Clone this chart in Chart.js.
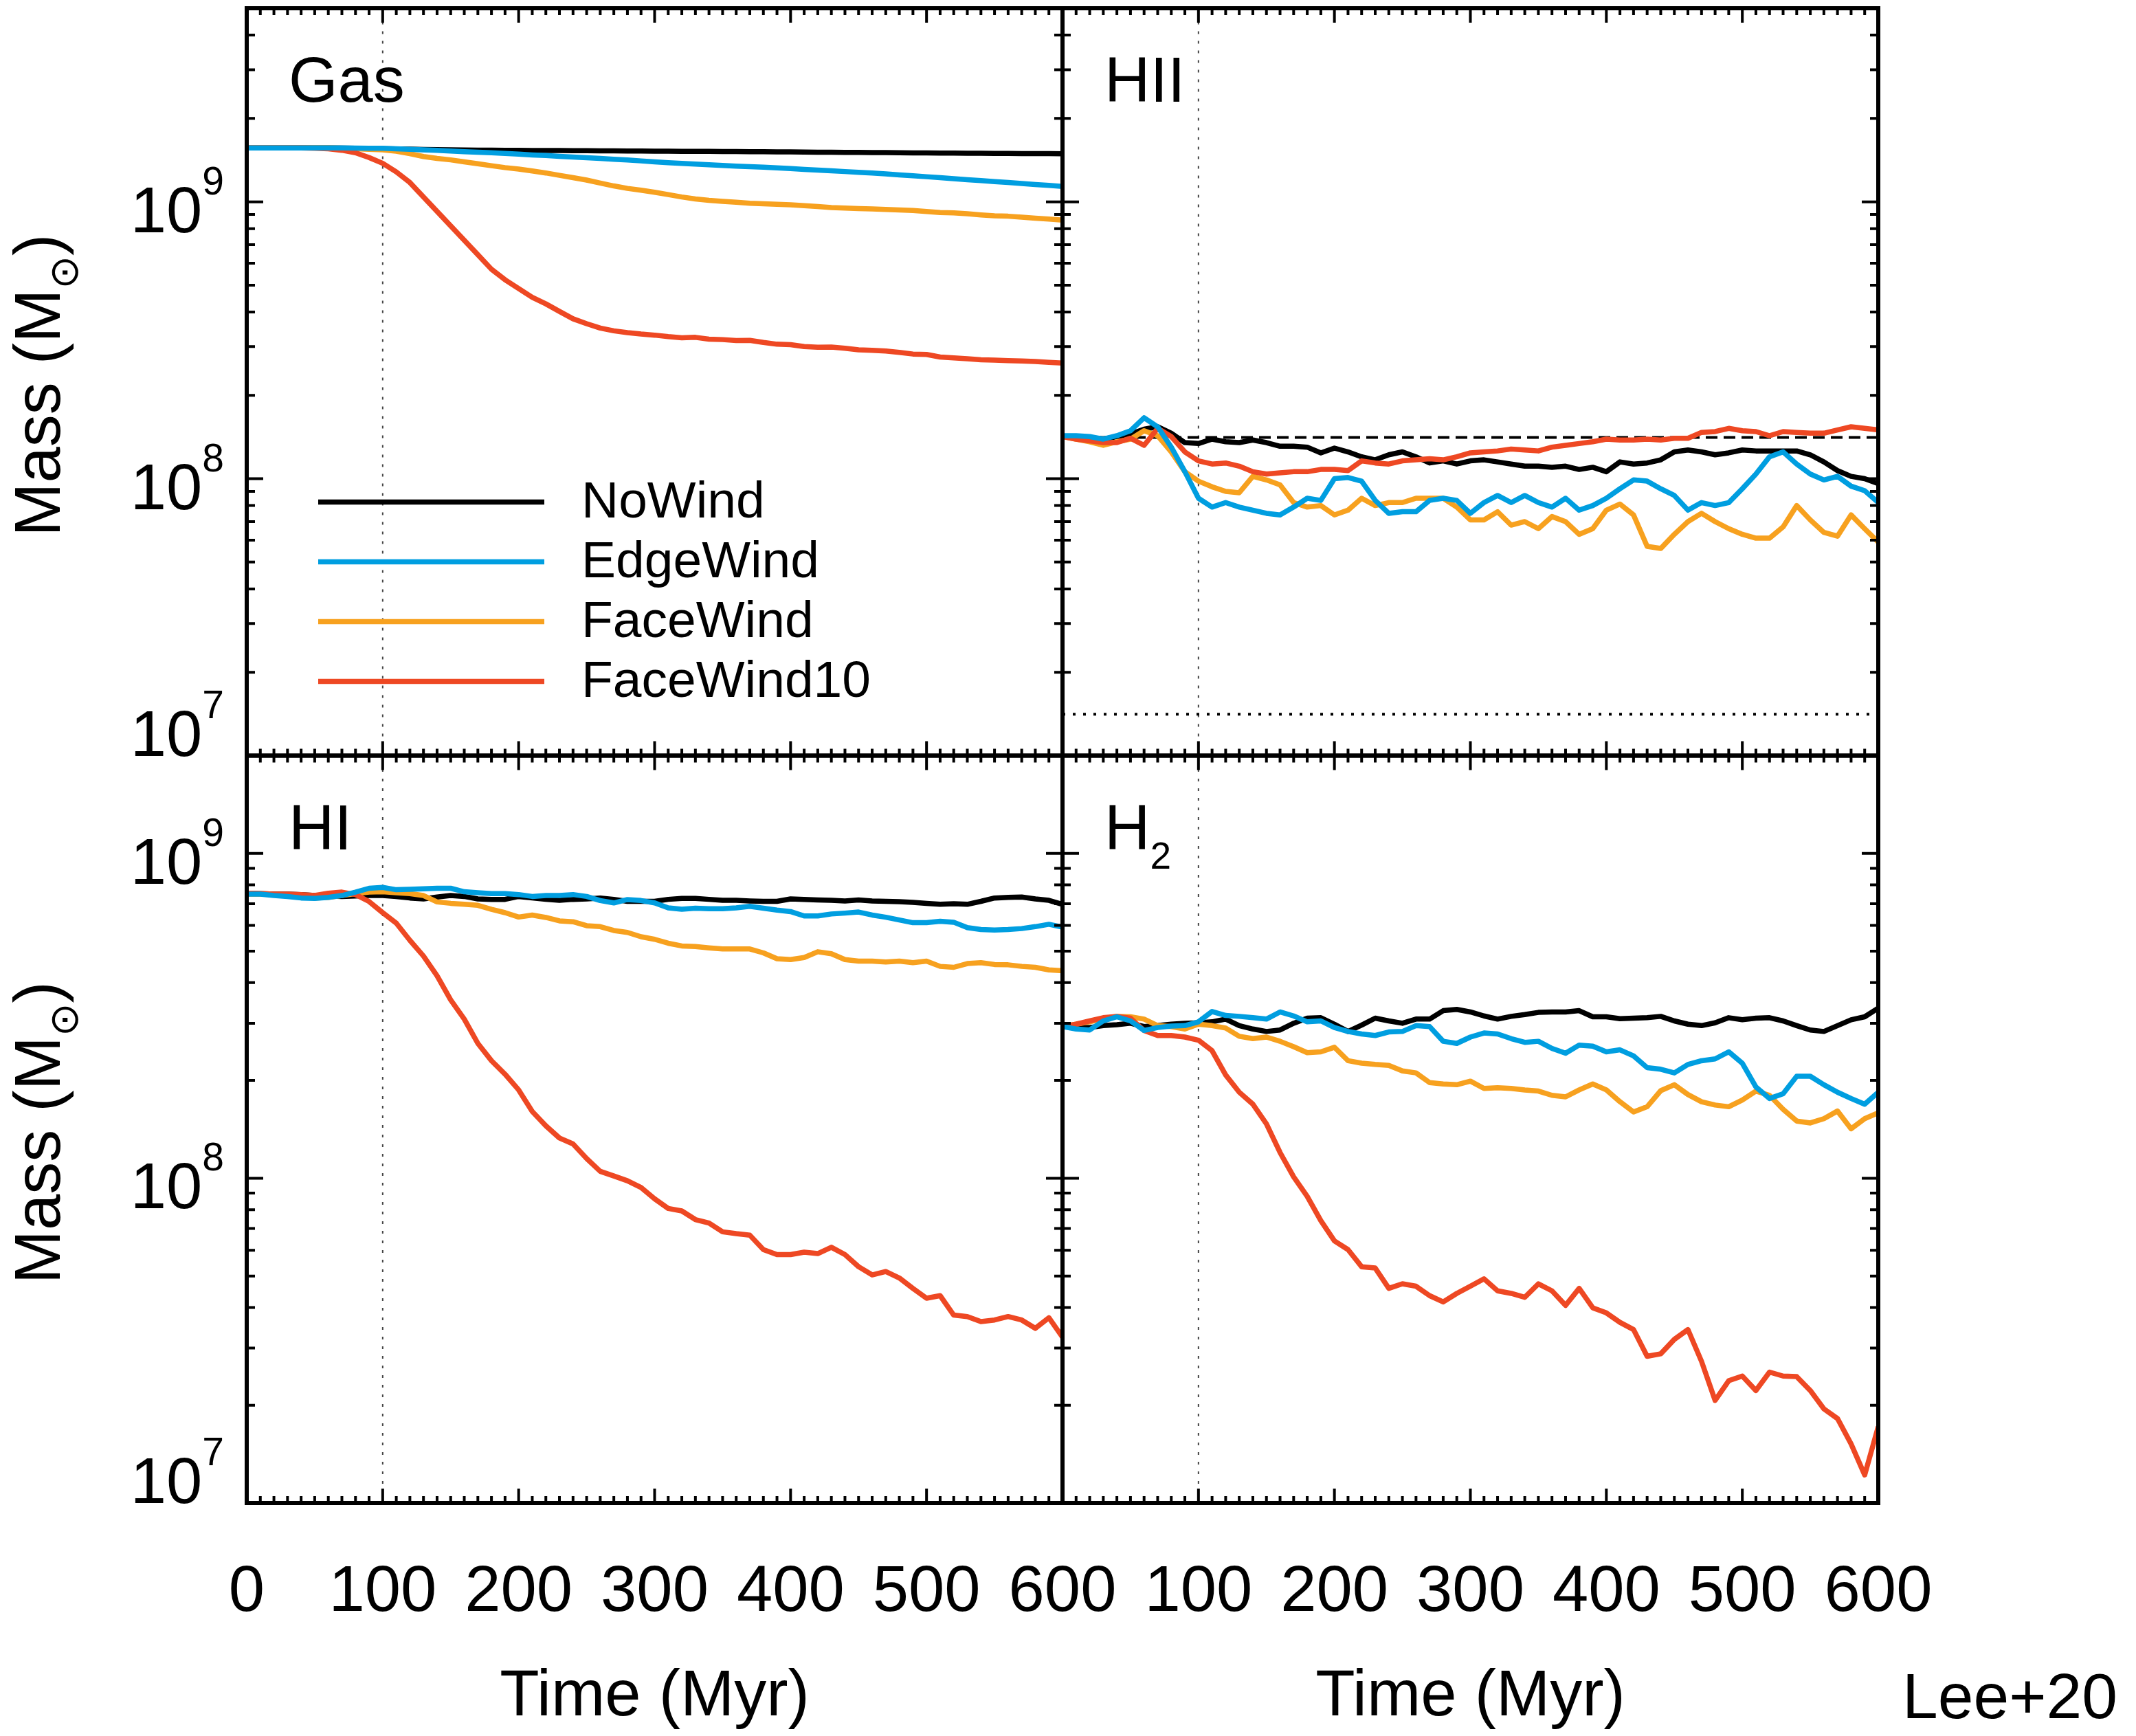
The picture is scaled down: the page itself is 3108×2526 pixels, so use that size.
<!DOCTYPE html>
<html lang="en">
<head>
<meta charset="utf-8">
<title>Gas mass evolution</title>
<script src="https://cdn.jsdelivr.net/npm/chart.js@4.4.1/dist/chart.umd.min.js"></script>
<style>
  html, body { margin: 0; padding: 0; background: #ffffff; }
  canvas { display: block; }
</style>
</head>
<body>
<canvas id="massChart" width="3108" height="2526"></canvas>
<script>
// simulation time, Myr
const times = [0, 10, 20, 30, 40, 50, 60, 70, 80, 90, 100, 110, 120, 130, 140, 150, 160, 170, 180, 190,
  200, 210, 220, 230, 240, 250, 260, 270, 280, 290, 300, 310, 320, 330, 340, 350, 360, 370, 380, 390,
  400, 410, 420, 430, 440, 450, 460, 470, 480, 490, 500, 510, 520, 530, 540, 550, 560, 570, 580, 590, 600];

const seriesNames = ['NoWind', 'EdgeWind', 'FaceWind', 'FaceWind10'];
const seriesColors = ['#000000', '#009ee0', '#f7a11f', '#ee4823'];
const seriesOrder = [4, 1, 3, 2];

// total gas mass (Msun)
const gasNoWind = [1.566e9, 1.566e9, 1.566e9, 1.566e9, 1.566e9, 1.566e9, 1.566e9, 1.563e9, 1.560e9, 1.558e9,
  1.555e9, 1.552e9, 1.549e9, 1.546e9, 1.543e9, 1.540e9, 1.538e9, 1.537e9, 1.536e9, 1.535e9,
  1.534e9, 1.533e9, 1.532e9, 1.531e9, 1.530e9, 1.529e9, 1.528e9, 1.527e9, 1.526e9, 1.525e9,
  1.524e9, 1.523e9, 1.522e9, 1.521e9, 1.520e9, 1.519e9, 1.518e9, 1.517e9, 1.516e9, 1.515e9,
  1.514e9, 1.513e9, 1.511e9, 1.510e9, 1.509e9, 1.507e9, 1.506e9, 1.505e9, 1.503e9, 1.502e9,
  1.501e9, 1.500e9, 1.499e9, 1.498e9, 1.497e9, 1.496e9, 1.495e9, 1.494e9, 1.493e9, 1.492e9, 1.491e9];
const gasEdgeWind = [1.566e9, 1.566e9, 1.566e9, 1.566e9, 1.566e9, 1.566e9, 1.566e9, 1.565e9, 1.563e9, 1.561e9,
  1.560e9, 1.554e9, 1.548e9, 1.541e9, 1.535e9, 1.526e9, 1.517e9, 1.510e9, 1.504e9, 1.495e9,
  1.486e9, 1.477e9, 1.469e9, 1.460e9, 1.451e9, 1.442e9, 1.434e9, 1.425e9, 1.417e9, 1.405e9,
  1.394e9, 1.385e9, 1.377e9, 1.369e9, 1.361e9, 1.353e9, 1.345e9, 1.339e9, 1.334e9, 1.326e9,
  1.318e9, 1.310e9, 1.302e9, 1.294e9, 1.286e9, 1.278e9, 1.271e9, 1.261e9, 1.251e9, 1.241e9,
  1.232e9, 1.222e9, 1.212e9, 1.202e9, 1.193e9, 1.183e9, 1.174e9, 1.164e9, 1.155e9, 1.146e9, 1.137e9];
const gasFaceWind = [1.566e9, 1.566e9, 1.566e9, 1.566e9, 1.566e9, 1.566e9, 1.566e9, 1.560e9, 1.554e9, 1.548e9,
  1.541e9, 1.523e9, 1.492e9, 1.457e9, 1.434e9, 1.417e9, 1.394e9, 1.372e9, 1.350e9, 1.329e9,
  1.313e9, 1.292e9, 1.271e9, 1.246e9, 1.222e9, 1.198e9, 1.169e9, 1.141e9, 1.118e9, 1.101e9,
  1.083e9, 1.062e9, 1.041e9, 1.024e9, 1.012e9, 1.004e9, 0.996e9, 0.988e9, 0.984e9, 0.980e9,
  0.976e9, 0.968e9, 0.961e9, 0.953e9, 0.949e9, 0.945e9, 0.942e9, 0.938e9, 0.934e9, 0.930e9,
  0.923e9, 0.915e9, 0.912e9, 0.905e9, 0.897e9, 0.890e9, 0.887e9, 0.880e9, 0.873e9, 0.866e9, 0.859e9];
const gasFaceWind10 = [1.566e9, 1.566e9, 1.566e9, 1.566e9, 1.566e9, 1.560e9, 1.554e9, 1.535e9, 1.504e9, 1.445e9,
  1.377e9, 1.282e9, 1.174e9, 1.041e9, 0.923e9, 0.819e9, 0.726e9, 0.644e9, 0.571e9, 0.523e9,
  0.486e9, 0.452e9, 0.428e9, 0.402e9, 0.378e9, 0.363e9, 0.350e9, 0.342e9, 0.337e9, 0.333e9,
  0.330e9, 0.326e9, 0.323e9, 0.324e9, 0.319e9, 0.318e9, 0.3155e9, 0.316e9, 0.3105e9, 0.306e9,
  0.305e9, 0.300e9, 0.2985e9, 0.299e9, 0.296e9, 0.292e9, 0.291e9, 0.289e9, 0.286e9, 0.282e9,
  0.281e9, 0.275e9, 0.273e9, 0.271e9, 0.269e9, 0.268e9, 0.267e9, 0.266e9, 0.265e9, 0.263e9, 0.2615e9];

// ionised hydrogen (Msun)
const hiiNoWind = [1.42e8, 1.42e8, 1.41e8, 1.39e8, 1.42e8, 1.45e8, 1.51e8, 1.54e8, 1.46e8, 1.35e8,
  1.34e8, 1.39e8, 1.36e8, 1.35e8, 1.38e8, 1.35e8, 1.31e8, 1.31e8, 1.30e8, 1.24e8,
  1.29e8, 1.25e8, 1.20e8, 1.17e8, 1.22e8, 1.25e8, 1.20e8, 1.14e8, 1.16e8, 1.13e8,
  1.16e8, 1.17e8, 1.15e8, 1.13e8, 1.11e8, 1.11e8, 1.10e8, 1.11e8, 1.08e8, 1.10e8,
  1.06e8, 1.15e8, 1.13e8, 1.14e8, 1.17e8, 1.25e8, 1.27e8, 1.25e8, 1.22e8, 1.24e8,
  1.27e8, 1.26e8, 1.26e8, 1.26e8, 1.26e8, 1.22e8, 1.15e8, 1.07e8, 1.02e8, 1.00e8, 0.96e8];
const hiiEdgeWind = [1.43e8, 1.43e8, 1.42e8, 1.39e8, 1.43e8, 1.49e8, 1.66e8, 1.54e8, 1.30e8, 1.06e8,
  0.85e8, 0.79e8, 0.82e8, 0.79e8, 0.77e8, 0.75e8, 0.74e8, 0.79e8, 0.85e8, 0.835e8,
  1.00e8, 1.01e8, 0.98e8, 0.835e8, 0.75e8, 0.76e8, 0.76e8, 0.835e8, 0.85e8, 0.835e8,
  0.75e8, 0.82e8, 0.87e8, 0.82e8, 0.87e8, 0.82e8, 0.79e8, 0.85e8, 0.77e8, 0.80e8,
  0.85e8, 0.92e8, 0.99e8, 0.98e8, 0.92e8, 0.87e8, 0.77e8, 0.82e8, 0.80e8, 0.82e8,
  0.92e8, 1.04e8, 1.20e8, 1.25e8, 1.13e8, 1.04e8, 0.99e8, 1.02e8, 0.94e8, 0.905e8, 0.82e8];
const hiiFaceWind = [1.42e8, 1.39e8, 1.36e8, 1.32e8, 1.36e8, 1.39e8, 1.49e8, 1.43e8, 1.25e8, 1.06e8,
  0.98e8, 0.935e8, 0.90e8, 0.89e8, 1.02e8, 0.99e8, 0.95e8, 0.82e8, 0.79e8, 0.80e8,
  0.74e8, 0.77e8, 0.85e8, 0.80e8, 0.82e8, 0.82e8, 0.85e8, 0.85e8, 0.85e8, 0.79e8,
  0.71e8, 0.71e8, 0.76e8, 0.68e8, 0.70e8, 0.66e8, 0.73e8, 0.70e8, 0.63e8, 0.66e8,
  0.77e8, 0.81e8, 0.74e8, 0.57e8, 0.56e8, 0.63e8, 0.70e8, 0.75e8, 0.70e8, 0.66e8,
  0.63e8, 0.61e8, 0.61e8, 0.67e8, 0.80e8, 0.71e8, 0.64e8, 0.62e8, 0.74e8, 0.66e8, 0.59e8];
const hiiFaceWind10 = [1.42e8, 1.39e8, 1.37e8, 1.35e8, 1.35e8, 1.40e8, 1.32e8, 1.52e8, 1.42e8, 1.25e8,
  1.16e8, 1.13e8, 1.14e8, 1.11e8, 1.06e8, 1.04e8, 1.05e8, 1.06e8, 1.06e8, 1.08e8,
  1.08e8, 1.07e8, 1.16e8, 1.14e8, 1.13e8, 1.16e8, 1.17e8, 1.18e8, 1.17e8, 1.20e8,
  1.24e8, 1.25e8, 1.26e8, 1.28e8, 1.27e8, 1.26e8, 1.30e8, 1.32e8, 1.34e8, 1.36e8,
  1.39e8, 1.38e8, 1.38e8, 1.39e8, 1.38e8, 1.40e8, 1.40e8, 1.47e8, 1.48e8, 1.52e8,
  1.49e8, 1.48e8, 1.43e8, 1.48e8, 1.47e8, 1.46e8, 1.46e8, 1.50e8, 1.54e8, 1.52e8, 1.50e8];

// neutral atomic hydrogen (Msun)
const hiNoWind = [7.54e8, 7.52e8, 7.49e8, 7.49e8, 7.47e8, 7.42e8, 7.39e8, 7.37e8, 7.39e8, 7.42e8,
  7.42e8, 7.37e8, 7.29e8, 7.24e8, 7.34e8, 7.42e8, 7.37e8, 7.24e8, 7.22e8, 7.22e8,
  7.37e8, 7.29e8, 7.22e8, 7.17e8, 7.22e8, 7.24e8, 7.29e8, 7.22e8, 7.12e8, 7.12e8,
  7.12e8, 7.22e8, 7.27e8, 7.27e8, 7.22e8, 7.17e8, 7.17e8, 7.14e8, 7.12e8, 7.12e8,
  7.24e8, 7.22e8, 7.19e8, 7.17e8, 7.14e8, 7.19e8, 7.14e8, 7.12e8, 7.10e8, 7.07e8,
  7.02e8, 6.97e8, 7.00e8, 6.97e8, 7.12e8, 7.29e8, 7.32e8, 7.34e8, 7.24e8, 7.17e8, 6.97e8];
const hiEdgeWind = [7.49e8, 7.49e8, 7.42e8, 7.37e8, 7.29e8, 7.27e8, 7.32e8, 7.42e8, 7.60e8, 7.81e8,
  7.86e8, 7.73e8, 7.75e8, 7.78e8, 7.81e8, 7.81e8, 7.62e8, 7.57e8, 7.52e8, 7.52e8,
  7.47e8, 7.37e8, 7.42e8, 7.42e8, 7.47e8, 7.37e8, 7.16e8, 7.04e8, 7.21e8, 7.16e8,
  7.04e8, 6.80e8, 6.73e8, 6.78e8, 6.76e8, 6.76e8, 6.80e8, 6.87e8, 6.78e8, 6.69e8,
  6.62e8, 6.42e8, 6.42e8, 6.51e8, 6.55e8, 6.60e8, 6.46e8, 6.36e8, 6.24e8, 6.12e8,
  6.12e8, 6.18e8, 6.14e8, 5.91e8, 5.83e8, 5.81e8, 5.83e8, 5.87e8, 5.95e8, 6.05e8, 5.93e8];
const hiFaceWind = [7.49e8, 7.49e8, 7.47e8, 7.42e8, 7.34e8, 7.29e8, 7.32e8, 7.42e8, 7.52e8, 7.60e8,
  7.62e8, 7.57e8, 7.52e8, 7.42e8, 7.09e8, 7.02e8, 6.97e8, 6.92e8, 6.73e8, 6.57e8,
  6.37e8, 6.46e8, 6.35e8, 6.20e8, 6.16e8, 5.99e8, 5.95e8, 5.79e8, 5.71e8, 5.54e8,
  5.44e8, 5.29e8, 5.19e8, 5.17e8, 5.12e8, 5.08e8, 5.08e8, 5.08e8, 4.94e8, 4.74e8,
  4.71e8, 4.78e8, 4.98e8, 4.91e8, 4.71e8, 4.66e8, 4.66e8, 4.63e8, 4.66e8, 4.61e8,
  4.66e8, 4.49e8, 4.46e8, 4.58e8, 4.61e8, 4.55e8, 4.54e8, 4.49e8, 4.46e8, 4.38e8, 4.35e8];
const hiFaceWind10 = [7.54e8, 7.52e8, 7.49e8, 7.49e8, 7.47e8, 7.42e8, 7.54e8, 7.60e8, 7.47e8, 7.11e8,
  6.57e8, 6.10e8, 5.40e8, 4.83e8, 4.20e8, 3.54e8, 3.09e8, 2.60e8, 2.30e8, 2.09e8,
  1.87e8, 1.605e8, 1.45e8, 1.33e8, 1.275e8, 1.15e8, 1.05e8, 1.016e8, 0.982e8, 0.936e8,
  0.864e8, 0.807e8, 0.793e8, 0.746e8, 0.728e8, 0.684e8, 0.675e8, 0.668e8, 0.603e8, 0.582e8,
  0.582e8, 0.592e8, 0.586e8, 0.613e8, 0.582e8, 0.534e8, 0.504e8, 0.516e8, 0.493e8, 0.458e8,
  0.427e8, 0.435e8, 0.379e8, 0.375e8, 0.362e8, 0.366e8, 0.375e8, 0.366e8, 0.345e8, 0.372e8, 0.324e8];

// molecular hydrogen (Msun)
const h2NoWind = [2.93e8, 2.92e8, 2.91e8, 2.95e8, 2.97e8, 3.00e8, 2.93e8, 2.95e8, 2.98e8, 3.00e8,
  3.01e8, 3.03e8, 3.09e8, 2.95e8, 2.88e8, 2.83e8, 2.86e8, 3.00e8, 3.11e8, 3.12e8,
  2.98e8, 2.83e8, 2.96e8, 3.11e8, 3.05e8, 3.00e8, 3.09e8, 3.09e8, 3.28e8, 3.31e8,
  3.25e8, 3.16e8, 3.09e8, 3.15e8, 3.19e8, 3.24e8, 3.25e8, 3.25e8, 3.28e8, 3.14e8,
  3.14e8, 3.10e8, 3.11e8, 3.12e8, 3.15e8, 3.05e8, 2.98e8, 2.95e8, 3.01e8, 3.12e8,
  3.075e8, 3.11e8, 3.12e8, 3.05e8, 2.95e8, 2.86e8, 2.83e8, 2.95e8, 3.075e8, 3.14e8, 3.34e8];
const h2EdgeWind = [2.93e8, 2.88e8, 2.86e8, 3.05e8, 3.14e8, 3.05e8, 2.85e8, 2.91e8, 2.94e8, 2.95e8,
  3.03e8, 3.26e8, 3.17e8, 3.15e8, 3.12e8, 3.09e8, 3.25e8, 3.16e8, 3.03e8, 3.05e8,
  2.91e8, 2.83e8, 2.78e8, 2.75e8, 2.82e8, 2.83e8, 2.95e8, 2.93e8, 2.64e8, 2.60e8,
  2.72e8, 2.80e8, 2.78e8, 2.69e8, 2.62e8, 2.64e8, 2.51e8, 2.425e8, 2.57e8, 2.55e8,
  2.45e8, 2.485e8, 2.38e8, 2.19e8, 2.165e8, 2.11e8, 2.24e8, 2.30e8, 2.33e8, 2.45e8,
  2.26e8, 1.91e8, 1.76e8, 1.82e8, 2.06e8, 2.06e8, 1.94e8, 1.84e8, 1.76e8, 1.69e8, 1.84e8];
const h2FaceWind = [2.93e8, 2.98e8, 3.03e8, 3.10e8, 3.15e8, 3.14e8, 3.09e8, 2.95e8, 2.93e8, 2.88e8,
  2.98e8, 2.95e8, 2.90e8, 2.735e8, 2.69e8, 2.72e8, 2.64e8, 2.54e8, 2.435e8, 2.45e8,
  2.53e8, 2.30e8, 2.26e8, 2.24e8, 2.225e8, 2.14e8, 2.11e8, 1.97e8, 1.95e8, 1.94e8,
  1.99e8, 1.89e8, 1.90e8, 1.89e8, 1.87e8, 1.855e8, 1.80e8, 1.78e8, 1.87e8, 1.95e8,
  1.87e8, 1.72e8, 1.60e8, 1.66e8, 1.86e8, 1.94e8, 1.81e8, 1.72e8, 1.68e8, 1.66e8,
  1.74e8, 1.855e8, 1.80e8, 1.63e8, 1.50e8, 1.48e8, 1.525e8, 1.61e8, 1.42e8, 1.525e8, 1.59e8];
const h2FaceWind10 = [2.93e8, 2.98e8, 3.05e8, 3.12e8, 3.15e8, 3.11e8, 2.85e8, 2.75e8, 2.75e8, 2.72e8,
  2.66e8, 2.47e8, 2.08e8, 1.84e8, 1.69e8, 1.47e8, 1.20e8, 1.01e8, 0.879e8, 0.740e8,
  0.641e8, 0.603e8, 0.534e8, 0.529e8, 0.458e8, 0.473e8, 0.465e8, 0.435e8, 0.416e8, 0.442e8,
  0.465e8, 0.490e8, 0.450e8, 0.442e8, 0.430e8, 0.473e8, 0.450e8, 0.406e8, 0.458e8, 0.399e8,
  0.385e8, 0.360e8, 0.342e8, 0.283e8, 0.288e8, 0.319e8, 0.342e8, 0.273e8, 0.207e8, 0.238e8,
  0.246e8, 0.222e8, 0.253e8, 0.246e8, 0.245e8, 0.222e8, 0.195e8, 0.182e8, 0.152e8, 0.122e8, 0.172e8];

// reference levels
const windArrival = 100;       // Myr, dotted vertical line
const hiiInitial = 1.41e8;     // dashed line in HII panel
const hiiTenPercent = 1.41e7;  // dotted line in HII panel

// axes
const timeTicks = [0, 100, 200, 300, 400, 500, 600];
const massTicks = [1e7, 1e8, 1e9];
const massExponents = ['7', '8', '9'];
const massRange = { yTop: [1e7, 5e9], yBottom: [1e7, 2e9] };

const FONT = "'Liberation Sans', Arial, Helvetica, sans-serif";

const panels = [
    { name: 'Gas', sub: '', x: 'xLeft', y: 'yTop', series: [gasNoWind, gasEdgeWind, gasFaceWind, gasFaceWind10] },
    { name: 'HII', sub: '', x: 'xRight', y: 'yTop', series: [hiiNoWind, hiiEdgeWind, hiiFaceWind, hiiFaceWind10] },
    { name: 'HI', sub: '', x: 'xLeft', y: 'yBottom', series: [hiNoWind, hiEdgeWind, hiFaceWind, hiFaceWind10] },
    { name: 'H', sub: '2', x: 'xRight', y: 'yBottom', series: [h2NoWind, h2EdgeWind, h2FaceWind, h2FaceWind10] },
];

function massTickValues(max) {
    const out = [];
    massTicks.forEach(decade => {
        for (let m = 1; m <= 9; m++) {
            if (m * decade < max * 0.999) out.push(m * decade);
        }
    });
    return out;
}

const datasets = [];
panels.forEach(p => {
    p.series.forEach((values, i) => {
        datasets.push({
            label: seriesNames[i] + ' ' + p.name + p.sub,
            data: times.map((t, k) => ({ x: t, y: values[k] })),
            xAxisID: p.x,
            yAxisID: p.y,
            borderColor: seriesColors[i],
            borderWidth: 7.5,
            order: seriesOrder[i],
        });
    });
    datasets.push({
        label: 'wind arrival',
        data: [{ x: windArrival, y: massRange[p.y][0] }, { x: windArrival, y: massRange[p.y][1] }],
        xAxisID: p.x,
        yAxisID: p.y,
        borderColor: '#444444',
        borderWidth: 2,
        borderDash: [4, 10],
        order: 9,
    });
});
datasets.push({
    label: 'HII initial',
    data: [{ x: 0, y: hiiInitial }, { x: 600, y: hiiInitial }],
    xAxisID: 'xRight', yAxisID: 'yTop',
    borderColor: '#000000', borderWidth: 4, borderDash: [17, 9], order: 8,
});
datasets.push({
    label: 'HII 10 percent',
    data: [{ x: 0, y: hiiTenPercent }, { x: 600, y: hiiTenPercent }],
    xAxisID: 'xRight', yAxisID: 'yTop',
    borderColor: '#000000', borderWidth: 4, borderDash: [4, 11], order: 8,
});

function timeAxis(showZero) {
    return {
        type: 'linear',
        position: 'bottom',
        stack: 'cols',
        stackWeight: 1,
        min: 0,
        max: 600,
        ticks: {
            stepSize: 100,
            autoSkip: false,
            maxRotation: 0,
            padding: 75,
            color: '#000',
            font: { family: FONT, size: 94 },
            callback: v => (v === 0 && !showZero) ? '' : String(v),
        },
        grid: { display: false, drawTicks: false },
        border: { display: false },
        title: {
            display: true,
            text: 'Time (Myr)',
            color: '#000',
            font: { family: FONT, size: 94 },
            padding: { top: 0, bottom: 0 },
        },
        afterFit(scale) { scale.height = 339; },
    };
}

function massAxis(range, weight) {
    return {
        type: 'logarithmic',
        position: 'left',
        stack: 'rows',
        stackWeight: 1,
        weight: weight,
        min: range[0],
        max: range[1],
        ticks: { display: false },
        grid: { display: false, drawTicks: false },
        border: { display: false },
        afterFit(scale) { scale.width = 359; },
    };
}

// frames, inward ticks, mass labels, legend and panel names
const panelDecor = {
    id: 'panelDecor',
    afterDraw(chart) {
        const ctx = chart.ctx;
        ctx.save();
        ctx.fillStyle = '#000';
        ctx.strokeStyle = '#000';
        ctx.textAlign = 'left';
        ctx.textBaseline = 'alphabetic';

        panels.forEach(p => {
            const xs = chart.scales[p.x];
            const ys = chart.scales[p.y];
            const left = xs.left, right = xs.right, top = ys.top, bottom = ys.bottom;

            ctx.lineWidth = 4;
            ctx.beginPath();
            for (let t = 0; t <= 600; t += 10) {
                const px = xs.getPixelForValue(t);
                const len = timeTicks.includes(t) ? 21 : 10;
                ctx.moveTo(px, bottom); ctx.lineTo(px, bottom - len);
                ctx.moveTo(px, top); ctx.lineTo(px, top + len);
            }
            massTickValues(ys.max).forEach(m => {
                const py = ys.getPixelForValue(m);
                const len = massTicks.includes(m) ? 24 : 12;
                ctx.moveTo(left, py); ctx.lineTo(left + len, py);
                ctx.moveTo(right, py); ctx.lineTo(right - len, py);
            });
            ctx.stroke();

            ctx.lineWidth = 6;
            ctx.strokeRect(left, top, right - left, bottom - top);

            ctx.font = '92px ' + FONT;
            ctx.fillText(p.name, left + 61, top + 136);
            if (p.sub) {
                const w = ctx.measureText(p.name).width;
                ctx.font = '55px ' + FONT;
                ctx.fillText(p.sub, left + 61 + w, top + 164);
            }
        });

        // mass tick labels and titles on the left column
        ['yTop', 'yBottom'].forEach(id => {
            const ys = chart.scales[id];
            massTicks.forEach((m, i) => {
                const py = ys.getPixelForValue(m);
                const lift = i === 0 ? -44 : 0;
                ctx.font = '57px ' + FONT;
                const we = ctx.measureText(massExponents[i]).width;
                ctx.font = '94px ' + FONT;
                const wb = ctx.measureText('10').width;
                const xe = 326 - we;
                ctx.fillText('10', xe - wb, py + 44 + lift);
                ctx.font = '57px ' + FONT;
                ctx.fillText(massExponents[i], xe, py - 11 + lift);
            });

            ctx.font = '94px ' + FONT;
            const w1 = ctx.measureText('Mass (M').width;
            const w3 = ctx.measureText(')').width;
            ctx.font = "58px 'DejaVu Sans'";
            const w2 = ctx.measureText('\u2299').width;
            const mid = (ys.top + ys.bottom) / 2 + 5;
            ctx.save();
            ctx.translate(87, mid + (w1 + w2 + w3) / 2);
            ctx.rotate(-Math.PI / 2);
            ctx.font = '94px ' + FONT;
            ctx.fillText('Mass (M', 0, 0);
            ctx.font = "58px 'DejaVu Sans'";
            ctx.fillText('\u2299', w1, 26);
            ctx.font = '94px ' + FONT;
            ctx.fillText(')', w1 + w2, 0);
            ctx.restore();
        });

        // legend in the Gas panel
        const gx = chart.scales.xLeft, gy = chart.scales.yTop;
        seriesNames.forEach((name, i) => {
            const ly = gy.top + 718.5 + i * 87;
            ctx.strokeStyle = seriesColors[i];
            ctx.lineWidth = 7.5;
            ctx.beginPath();
            ctx.moveTo(gx.left + 104, ly);
            ctx.lineTo(gx.left + 433, ly);
            ctx.stroke();
            ctx.font = '75px ' + FONT;
            ctx.fillText(name, gx.left + 487, ly + 22);
        });

        ctx.font = '93px ' + FONT;
        ctx.fillText('Lee+20', 2768, 2500);
        ctx.restore();
    }
};

const massChart = new Chart(document.getElementById('massChart'), {
    type: 'line',
    data: { datasets },
    options: {
        responsive: false,
        animation: false,
        devicePixelRatio: 1,
        layout: { padding: { left: 0, top: 12, right: 375, bottom: 0 } },
        elements: {
            point: { radius: 0 },
            line: { tension: 0, fill: false, borderJoinStyle: 'round' },
        },
        plugins: {
            legend: { display: false },
            tooltip: { enabled: false },
        },
        scales: {
            xLeft: timeAxis(true),
            xRight: timeAxis(false),
            yTop: massAxis(massRange.yTop, 1),
            yBottom: massAxis(massRange.yBottom, 0),
        },
    },
    plugins: [panelDecor],
});
</script>
</body>
</html>
